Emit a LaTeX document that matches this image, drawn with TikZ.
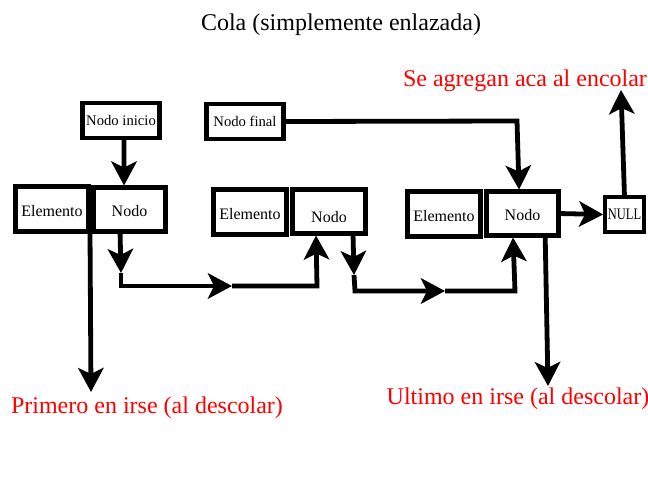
\documentclass[tikz,border=0pt]{standalone}
\usepackage{fontspec}
\setmainfont{Liberation Serif}
\usepackage{graphicx}
\usetikzlibrary{arrows.meta}

\begin{document}
\begin{tikzpicture}[x=0.75pt, y=-0.75pt,
  caja/.style={draw, line width=3.4pt, outer sep=0pt, inner sep=0pt, font=\fontsize{12}{14}\selectfont},
  fila/.style={caja, text height=11pt, text depth=0pt},
  flecha/.style={line width=3.6pt, -{Stealth[length=18pt, width=19pt, inset=4.5pt]}},
  rojo/.style={text=red, font=\fontsize{18}{22}\selectfont}]
\useasboundingbox (0,0) rectangle (648,500);

\node[font=\fontsize{18}{22}\selectfont] (titulo) at (341,25) {Cola (simplemente enlazada)};
\node[rojo] (encolar) at (525,81) {Se agregan aca al encolar};
\node[rojo] (primero) at (147,408) {Primero en irse (al descolar)};
\node[rojo] (ultimo) at (518,399) {Ultimo en irse (al descolar)};

\node[caja, minimum width=58pt, minimum height=26pt, font=\fontsize{11}{13}\selectfont] (inicio) at (121,120.5) {Nodo inicio};
\node[caja, minimum width=58pt, minimum height=26pt, font=\fontsize{11}{13}\selectfont] (final) at (245,121.5) {Nodo final};

\node[fila, minimum width=55pt, minimum height=34pt] (elem1) at (52,209) {Elemento};
\node[fila, minimum width=54pt, minimum height=33pt] (nodo1) at (129.5,209.5) {Nodo};
\node[fila, minimum width=55pt, minimum height=34pt] (elem2) at (250,212) {Elemento};
\node[fila, minimum width=55pt, minimum height=33pt] (nodo2) at (329,211.5) {\raisebox{-2.5pt}[\height][0pt]{Nodo}};
\node[fila, minimum width=55pt, minimum height=34pt] (elem3) at (444,214) {Elemento};
\node[fila, minimum width=54pt, minimum height=33pt] (nodo3) at (522.5,213.5) {Nodo};
\node[caja, minimum width=29pt, minimum height=26pt] (null) at (624.5,214.5) {\scalebox{0.78}[1]{NULL}};

% esquinas
\coordinate (esq1) at (517,121);
\coordinate (p1) at (121,273);
\coordinate (esq2) at (121,286);
\coordinate (m1) at (232,286);
\coordinate (esq3) at (317,286);
\coordinate (p2) at (354,275);
\coordinate (esq4) at (355,291);
\coordinate (m2) at (445,291);
\coordinate (esq5) at (515,291);
\coordinate (fin1) at (91,392);
\coordinate (fin2) at (548,386);
\coordinate (fin3) at (621,90);

\draw[flecha] ([xshift=2.25pt]inicio.south) -- ([xshift=-4.1pt,yshift=1.5pt]nodo1.north);
\draw[flecha] (final.east) -- (esq1) -- ([xshift=-2.6pt,yshift=1.5pt]nodo3.north);

\draw[flecha] ([xshift=-7.1pt]nodo1.south) -- (p1);
\draw[flecha] (p1) -- (esq2) -- (m1);
\draw[flecha] (m1) -- (esq3) -- ([xshift=-9.75pt,yshift=-1.5pt]nodo2.south);

\draw[flecha] ([xshift=18pt]nodo2.south) -- (p2);
\draw[flecha] (p2) -- (esq4) -- (m2);
\draw[flecha] (m2) -- (esq5) -- ([xshift=-7.1pt,yshift=-1.5pt]nodo3.south);

\draw[flecha] ([xshift=1pt]elem1.south east) -- (fin1);
\draw[flecha] ([xshift=17pt]nodo3.south) -- (fin2);
\draw[flecha] (nodo3.east) -- ([xshift=-1.5pt]null.west);
\draw[flecha] (null.north) -- (fin3);
\end{tikzpicture}
\end{document}
